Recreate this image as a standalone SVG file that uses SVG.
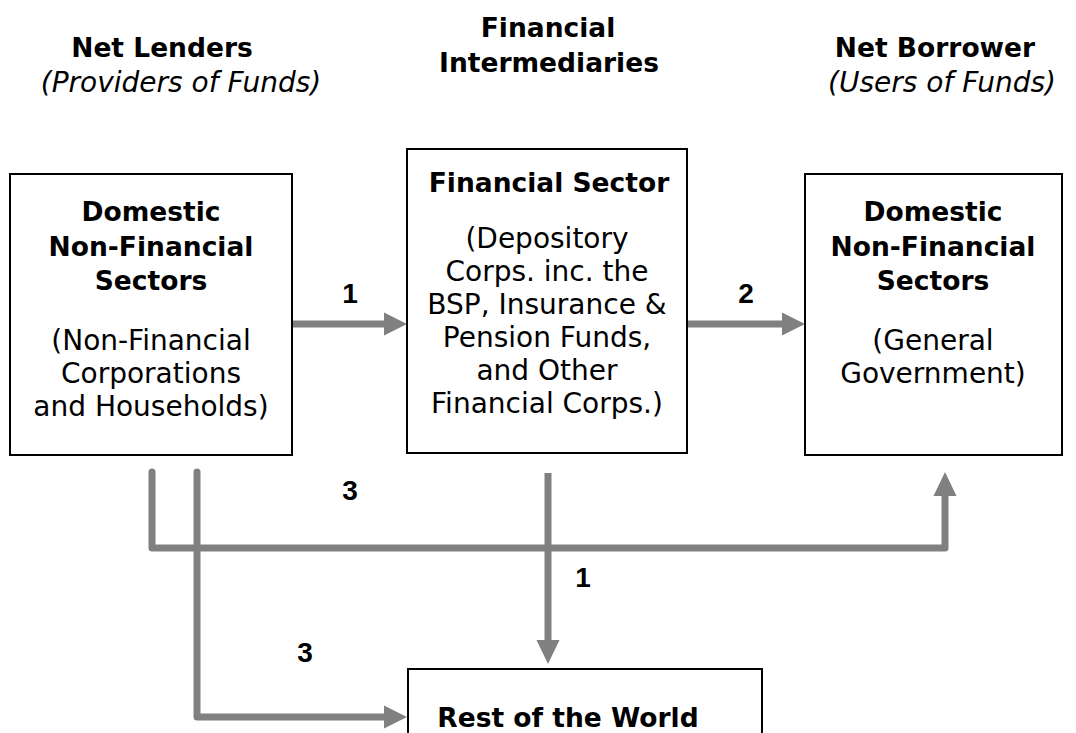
<svg xmlns="http://www.w3.org/2000/svg" width="1076" height="733" viewBox="0 0 1076 733">
<style>
.box{fill:#fff;stroke:#000;stroke-width:2}
.hb{font-family:"DejaVu Sans",sans-serif;font-weight:bold;font-size:26.5px;fill:#000;text-anchor:middle}
.rg{font-family:"DejaVu Sans",sans-serif;font-size:28px;fill:#000;text-anchor:middle}
.it{font-family:"DejaVu Sans",sans-serif;font-style:italic;font-size:28px;fill:#000;text-anchor:middle}
.num{font-family:"Liberation Sans",Arial,sans-serif;font-weight:bold;font-size:28px;fill:#000;text-anchor:middle}
.ln{fill:none;stroke:#808080;stroke-width:7}
.hd{fill:#808080}
</style>
<rect width="1076" height="733" fill="#fff"/>
<g id="headers">
<text class="hb" x="162" y="57">Net Lenders</text>
<text class="it" x="181" y="92">(Providers of Funds)</text>
<text class="hb" x="548" y="37">Financial</text>
<text class="hb" x="549" y="72">Intermediaries</text>
<text class="hb" x="935" y="57">Net Borrower</text>
<text class="it" x="942" y="92">(Users of Funds)</text>
</g>
<g id="connectors">
<line class="ln" x1="292" y1="324" x2="386" y2="324"/>
<polygon class="hd" points="384,312.5 407,324 384,335.5"/>
<line class="ln" x1="687" y1="324" x2="784" y2="324"/>
<polygon class="hd" points="782,312.5 805,324 782,335.5"/>
<path class="ln" d="M152,472 V548 H945 V494" stroke-linecap="round" stroke-linejoin="round"/>
<polygon class="hd" points="933.5,496 945,472 956.5,496"/>
<path class="ln" d="M197,472 V717 H386" stroke-linecap="round" stroke-linejoin="round"/>
<polygon class="hd" points="384,705.5 407,717 384,728.5"/>
<line class="ln" x1="548" y1="473" x2="548" y2="642"/>
<polygon class="hd" points="536.5,640 548,664 559.5,640"/>
<text class="num" x="350" y="303">1</text>
<text class="num" x="746" y="303">2</text>
<text class="num" x="350" y="500">3</text>
<text class="num" x="583" y="587">1</text>
<text class="num" x="305" y="662">3</text>
</g>
<g id="lenders">
<rect class="box" x="10" y="174" width="282" height="281"/>
<text class="hb" x="151" y="221">Domestic</text>
<text class="hb" x="151" y="256">Non-Financial</text>
<text class="hb" x="151" y="290">Sectors</text>
<text class="rg" x="151" y="350">(Non-Financial</text>
<text class="rg" x="151" y="383">Corporations</text>
<text class="rg" x="151" y="416">and Households)</text>
</g>
<g id="intermediaries">
<rect class="box" x="407" y="149" width="280" height="304"/>
<text class="hb" x="549" y="192">Financial Sector</text>
<text class="rg" x="547" y="248">(Depository</text>
<text class="rg" x="547" y="281">Corps. inc. the</text>
<text class="rg" x="547" y="314">BSP, Insurance &amp;</text>
<text class="rg" x="547" y="347">Pension Funds,</text>
<text class="rg" x="547" y="380">and Other</text>
<text class="rg" x="547" y="413">Financial Corps.)</text>
</g>
<g id="borrowers">
<rect class="box" x="805" y="174" width="257" height="281"/>
<text class="hb" x="933" y="221">Domestic</text>
<text class="hb" x="933" y="256">Non-Financial</text>
<text class="hb" x="933" y="290">Sectors</text>
<text class="rg" x="933" y="350">(General</text>
<text class="rg" x="933" y="383">Government)</text>
</g>
<g id="rest-of-world">
<rect class="box" x="408" y="669" width="354" height="80"/>
<text class="hb" x="568" y="727">Rest of the World</text>
</g>
</svg>
